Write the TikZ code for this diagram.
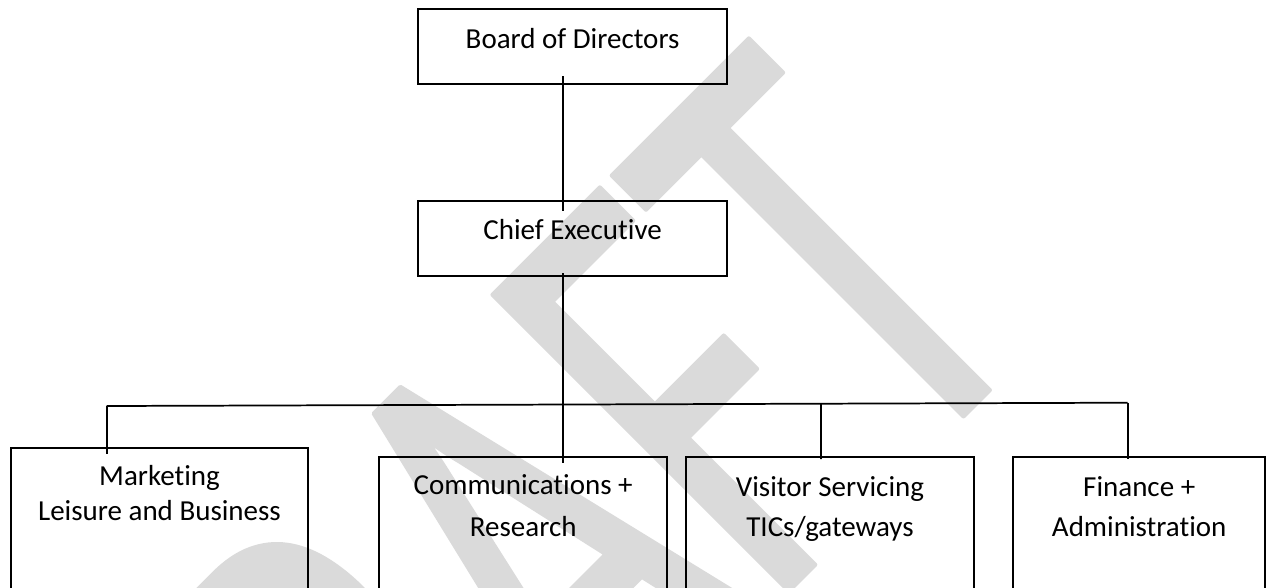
\documentclass[tikz,border=0pt]{standalone}
\usepackage{fontspec}
\setmainfont{Carlito}[Ligatures=NoCommon]
\newfontfamily\wmfont{Carlito}[Ligatures=NoCommon, FakeStretch=0.64]
\usetikzlibrary{calc}
\definecolor{wmgray}{RGB}{218,218,218}
% outlined glyphs with round joins for the watermark
\newcommand\wmstrokeon{\special{pdf:literal direct 2 Tr 3 w 1 j 1 J}}
\newcommand\wmstrokeoff{\special{pdf:literal direct 0 Tr}}
\begin{document}
\begin{tikzpicture}[x=0.75pt,y=-0.75pt,
  orgbox/.style={draw=black, line width=1.5pt, rectangle, inner sep=0pt, outer sep=0pt},
  wire/.style={draw=black, line width=1.3pt},
  lbl/.style={inner sep=0pt, anchor=base, font=\fontsize{21.75}{26}\selectfont},
  wmtext/.style={text=wmgray, inner sep=0pt, anchor=base east, rotate=45}]
\useasboundingbox (0,0) rectangle (1267,587);
\clip (0,0) rectangle (1267,587);
\fill[white] (0,0) rectangle (1267,587);

% background watermark
\node[wmtext] (draft) at (1049,331)
  {\wmfont\fontsize{490}{490}\selectfont\wmstrokeon DRAFT\wmstrokeoff};

% boxes
\node[orgbox, minimum width=231.5pt, minimum height=56.6pt] (board) at (572.6,46.3) {};
\node[orgbox, minimum width=231.5pt, minimum height=56.6pt] (chief) at (572.6,238.3) {};
\node[orgbox, minimum width=222.75pt, minimum height=150pt] (mkt) at (159.5,547.7) {};
\node[orgbox, minimum width=216.2pt, minimum height=150pt] (comm) at (523.2,556.7) {};
\node[orgbox, minimum width=216pt, minimum height=150pt] (visit) at (830,557.3) {};
\node[orgbox, minimum width=188.8pt, minimum height=150pt] (fin) at (1139.2,557.3) {};

% labels
\node[lbl] (boardT) at ($(board.north)+(0,39.8)$) {Board of Directors};
\node[lbl] (chiefT) at ($(chief.north)+(0,38.8)$) {Chief Executive};
\node[lbl] (mktT1) at ($(mkt.north)+(0,37.3)$) {Marketing};
\node[lbl] (mktT2) at ($(mkt.north)+(0,73)$) {Leisure and Business};
\node[lbl] (commT1) at ($(comm.north)+(0,37.3)$) {Communications +};
\node[lbl] (commT2) at ($(comm.north)+(0,79.3)$) {Research};
\node[lbl] (visitT1) at ($(visit.north)+(0,39.4)$) {Visitor Servicing};
\node[lbl] (visitT2) at ($(visit.north)+(0,78.7)$) {TICs/gateways};
\node[lbl] (finT1) at ($(fin.north)+(0,39.4)$) {Finance +};
\node[lbl] (finT2) at ($(fin.north)+(0,79.4)$) {Administration};

% connectors
\coordinate (spine) at (563,0);
\coordinate (busL) at (106.7,406);
\coordinate (busR) at (1127.7,402.7);
\draw[wire] ($(board.south -| spine)+(0,-8)$) -- ($(chief.north -| spine)+(0,10.5)$);
\draw[wire] ($(chief.south -| spine)+(0,-3)$) -- ($(comm.north -| spine)+(0,6.6)$);
\draw[wire] (busL) -- (busR);
\draw[wire] (busL) -- ($(mkt.north -| busL)+(0,6.3)$);
\draw[wire] ($(busL)!0.6996!(busR)$) -- ($(visit.north)+(-9,1.7)$);
\draw[wire] (busR) -- ($(fin.north -| busR)+(0,1.7)$);
\end{tikzpicture}
\end{document}
